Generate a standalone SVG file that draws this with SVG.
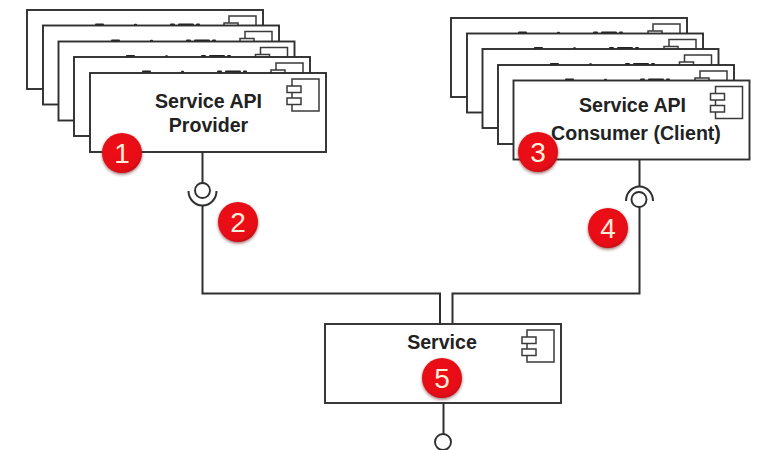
<svg xmlns="http://www.w3.org/2000/svg" xmlns:xlink="http://www.w3.org/1999/xlink" width="759" height="450" viewBox="0 0 759 450">
<style>
.box{fill:#fff;stroke:#2f2f2f;stroke-width:1.9}
.ic{fill:#fff;stroke:#3a3a3a;stroke-width:1.5}
.con{fill:none;stroke:#2f2f2f;stroke-width:2}
.ball{fill:#fff;stroke:#2f2f2f;stroke-width:1.9}
.lbl{font-family:"Liberation Sans",Arial,sans-serif;font-weight:700;font-size:19.6px;fill:#222;text-anchor:middle}
.num{font-family:"Liberation Sans",Arial,sans-serif;font-size:28px;fill:#fbeeda;text-anchor:middle}
.sm{stroke:#222;stroke-width:2;stroke-linecap:round;fill:none}
.badge{fill:url(#red);filter:url(#sh)}
</style>
<defs>
<radialGradient id="red" cx="0.45" cy="0.4" r="0.65"><stop offset="0" stop-color="#f01018"/><stop offset="0.8" stop-color="#e50d14"/><stop offset="1" stop-color="#b80a10"/></radialGradient>
<filter id="sh" x="-20%" y="-20%" width="140%" height="150%"><feDropShadow dx="0" dy="1.5" stdDeviation="1.5" flood-color="#6a2020" flood-opacity="0.65"/></filter>
<g id="comp">
<rect class="box" x="0" y="0" width="236" height="79"/>
<rect class="ic" x="202" y="6" width="27" height="32"/>
<rect class="ic" x="197" y="13" width="14" height="6.500"/>
<rect class="ic" x="197" y="25" width="14" height="6.500"/>
</g>
<path id="ink" class="sm" d="M0 0h7M39 0.300h1M75 0h3M83 0h14M101 0h2"/>
</defs>

<g id="connectors">
<path class="con" d="M202.500 152V183M202.500 206V293.500H440V324"/>
<path class="con" d="M188.500 191A14 14.500 0 0 0 216.500 191"/>
<path class="con" d="M639.500 159V187M639.500 207V293.500H452.500V324"/>
<path class="con" d="M626 201A13.500 14.500 0 0 1 653 201"/>
<path class="con" d="M443.500 402V434"/>
</g>

<g id="provider-stack-1"><use xlink:href="#comp" x="27" y="10"/><use xlink:href="#ink" x="96" y="24.500"/></g>
<g id="provider-stack-2"><use xlink:href="#comp" x="43" y="25.500"/><use xlink:href="#ink" x="112" y="40.500"/></g>
<g id="provider-stack-3"><use xlink:href="#comp" x="58.500" y="41.500"/><use xlink:href="#ink" x="127" y="56"/></g>
<g id="provider-stack-4"><use xlink:href="#comp" x="74" y="57"/><use xlink:href="#ink" x="143" y="71.500"/></g>
<g id="provider">
<use xlink:href="#comp" x="90" y="73"/>
<text class="lbl" x="208.500" y="107.500">Service API</text>
<text class="lbl" x="208.500" y="131.500">Provider</text>
</g>

<g id="consumer-stack-1"><use xlink:href="#comp" x="451" y="18"/><use xlink:href="#ink" x="519" y="32.500"/></g>
<g id="consumer-stack-2"><use xlink:href="#comp" x="467" y="33.500"/><use xlink:href="#ink" x="535" y="48"/></g>
<g id="consumer-stack-3"><use xlink:href="#comp" x="482.500" y="49"/><use xlink:href="#ink" x="551" y="64"/></g>
<g id="consumer-stack-4"><use xlink:href="#comp" x="498" y="65"/><use xlink:href="#ink" x="566" y="79.500"/></g>
<g id="consumer">
<use xlink:href="#comp" x="513.500" y="80.500"/>
<text class="lbl" x="632.500" y="112">Service API</text>
<text class="lbl" x="636" y="140">Consumer (Client)</text>
</g>

<g id="service">
<use xlink:href="#comp" x="325" y="324"/>
<text class="lbl" x="442" y="349">Service</text>
</g>

<g id="interface-provider"><circle class="ball" cx="202.500" cy="190.500" r="7.500"/></g>
<g id="interface-consumer"><circle class="ball" cx="639" cy="199.500" r="7.500"/></g>
<g id="interface-service"><circle class="ball" cx="443" cy="442" r="8"/></g>

<g id="badge-1"><circle class="badge" cx="122" cy="153" r="20"/><text class="num" x="122" y="163">1</text></g>
<g id="badge-2"><circle class="badge" cx="238" cy="222" r="20"/><text class="num" x="238" y="232">2</text></g>
<g id="badge-3"><circle class="badge" cx="538" cy="152" r="20"/><text class="num" x="538" y="162">3</text></g>
<g id="badge-4"><circle class="badge" cx="608" cy="228" r="20"/><text class="num" x="608" y="238">4</text></g>
<g id="badge-5"><circle class="badge" cx="442" cy="378" r="20"/><text class="num" x="442" y="388">5</text></g>
</svg>
